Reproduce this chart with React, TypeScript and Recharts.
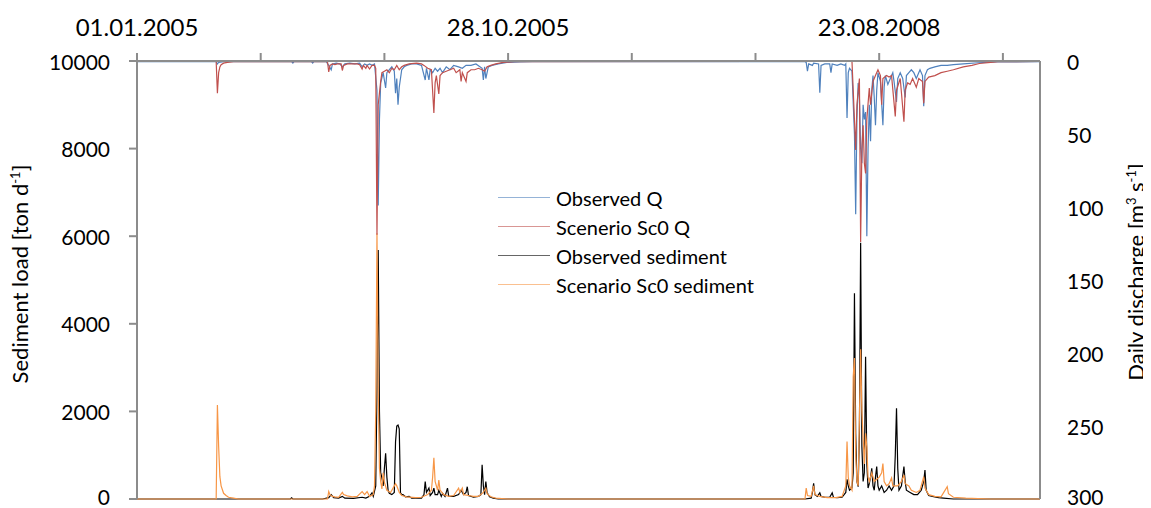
import React from 'react'
import { ComposedChart, Line, XAxis, YAxis } from 'recharts'

// x = day index of the daily series: 0-364 is 2005, 365-730 is 2008
const dayTicks = [0, 100, 200, 300, 400, 500, 600, 700]
const dateLabels: Record<number, string> = { 0: '01.01.2005', 300: '28.10.2005', 600: '23.08.2008' }
const sedTicks = [0, 2000, 4000, 6000, 8000, 10000]
const qTicks = [0, 50, 100, 150, 200, 250, 300]

// [day, m3/s]
const observedQ: [number, number][] = [
  [0, 0.5], [64, 0.5], [65, 2], [66, 1], [70, 0.5], [125, 0.5], [126, 1.5], [127, 0.5], [141, 0.5], [142, 1.5], [143, 0.5],
  [153, 0.5], [155, 3], [157, 6], [158, 2], [161, 1.5], [164, 2], [166, 4], [168, 2], [172, 1.5], [176, 2], [180, 1.5],
  [182, 4], [184, 2], [186, 3], [188, 2], [190, 3], [192, 2], [194, 20], [195, 99], [196, 40], [197, 15], [199, 8],
  [201, 18.5], [202, 8], [204, 6], [206, 4], [208, 7], [209, 22], [210, 12], [211, 30], [212, 18], [214, 6], [216, 4],
  [218, 3], [222, 2], [226, 2], [230, 3], [233, 13], [234, 5], [236, 13], [237, 6], [239, 8], [241, 5], [243, 7],
  [245, 5], [247, 8], [250, 4], [253, 6], [256, 3], [260, 4], [263, 5], [266, 3], [270, 3], [274, 2], [279, 5],
  [280, 13], [281, 4], [282, 12], [284, 4], [287, 3], [292, 2], [299, 1], [310, 0.7], [320, 0.5],
  [540, 0.5], [541, 1], [542, 7], [543, 2], [546, 3], [547, 1.5], [551, 2], [552, 21.7], [553, 3], [556, 2], [560, 2],
  [561, 8], [562, 2], [566, 3], [569, 2], [572, 3], [573, 2], [574, 39], [575, 8], [576, 5], [578, 7], [580, 50],
  [581, 105], [582, 40], [583, 15], [584, 25], [585, 60], [586, 70], [587, 30], [588, 40], [589, 35], [590, 120],
  [591, 60], [592, 30], [593, 55], [594, 20], [595, 10], [596, 25], [597, 44], [598, 20], [599, 8], [601, 14],
  [603, 44], [604, 18], [605, 10], [607, 16], [609, 12], [611, 8], [612, 14], [614, 28], [615, 12], [617, 8],
  [619, 12], [621, 25], [622, 10], [624, 8], [626, 6], [628, 8], [630, 12], [633, 6], [635, 10], [636, 31], [637, 10],
  [639, 6], [641, 5], [645, 4], [650, 3], [655, 3], [660, 2.5], [668, 2], [680, 1.2], [695, 0.6], [730, 0.5],
]

const scenarioQ: [number, number][] = [
  [0, 0.3], [64, 0.3], [65, 22], [66, 8], [67, 4], [68, 2.5], [70, 1.5], [73, 1], [78, 0.5], [154, 0.5], [155, 7.5],
  [156, 3], [158, 2], [160, 2.5], [162, 2], [165, 2], [166, 6.5], [167, 3], [170, 2], [175, 2], [178, 2], [180, 2.5],
  [182, 5.5], [183, 3], [185, 5], [186, 3], [188, 5.5], [190, 3], [192, 3], [193, 5], [194, 119], [195, 30], [197, 14],
  [198, 8], [200, 7], [202, 6], [204, 8], [206, 5], [208, 6], [210, 3], [212, 6], [214, 4], [216, 3], [220, 2],
  [226, 1.5], [230, 2], [232, 3], [235, 5], [238, 6], [240, 35.6], [241, 15], [242, 10], [244, 22.6], [245, 10],
  [247, 8], [250, 7], [253, 6], [256, 5], [258, 8], [261, 6], [262, 14], [263, 8], [265, 12], [266, 14], [267, 8],
  [270, 6], [273, 6], [276, 5], [279, 6], [281, 7], [283, 4], [286, 3], [290, 2], [296, 1], [305, 0.5],
  [578, 0.3], [579, 20], [581, 61], [582, 30], [584, 12], [585, 124], [586, 60], [587, 44], [588, 70], [589, 77],
  [590, 40], [592, 18.5], [593, 30], [595, 14], [597, 10], [599, 6], [601, 10], [602, 30], [603, 12], [606, 10],
  [608, 11], [610, 10], [613, 38], [614, 20], [617, 12], [620, 41.6], [621, 20], [623, 15], [625, 16], [627, 12],
  [630, 18], [632, 12], [635, 14], [636, 29], [637, 14], [640, 11], [645, 10], [650, 8], [655, 7], [660, 6],
  [668, 4], [675, 3], [681, 1.7], [690, 1], [696, 0.5], [730, 0.3],
]

// [day, ton/d]
const observedSed: [number, number][] = [
  [0, 0], [124, 0], [125, 25], [126, 0], [150, 0], [155, 30], [157, 100], [159, 30], [163, 20], [166, 60], [168, 20],
  [175, 15], [182, 40], [185, 20], [188, 60], [190, 140], [191, 60], [193, 300], [194, 2500], [195, 5685], [196, 2000],
  [197, 600], [198, 480], [199, 300], [200, 700], [201, 1043], [202, 500], [203, 200], [204, 130], [206, 100],
  [208, 150], [209, 1300], [210, 1667], [211, 1690], [212, 1600], [213, 140], [214, 100], [215, 100], [217, 50],
  [220, 60], [222, 20], [230, 20], [232, 100], [233, 400], [234, 150], [236, 250], [237, 80], [239, 150], [240, 250],
  [241, 100], [243, 100], [244, 200], [246, 60], [247, 130], [249, 60], [251, 250], [252, 60], [256, 60], [260, 100],
  [262, 200], [264, 100], [266, 150], [267, 280], [268, 80], [272, 40], [276, 60], [278, 100], [279, 780], [280, 300],
  [281, 100], [282, 400], [283, 150], [285, 50], [288, 20], [292, 0],
  [540, 0], [545, 20], [546, 150], [547, 360], [548, 100], [550, 60], [552, 140], [553, 60], [556, 40], [560, 40],
  [562, 140], [563, 40], [566, 30], [570, 40], [573, 150], [574, 450], [575, 300], [576, 200], [578, 250], [579, 600],
  [580, 4700], [581, 1500], [582, 400], [583, 280], [584, 1500], [585, 5850], [586, 1200], [587, 400], [588, 600],
  [589, 3250], [590, 800], [591, 250], [592, 350], [593, 500], [594, 700], [595, 300], [596, 200], [597, 500],
  [598, 740], [599, 300], [600, 200], [602, 300], [604, 150], [606, 200], [608, 300], [610, 200], [612, 300],
  [613, 1000], [614, 2070], [615, 700], [616, 200], [618, 300], [620, 740], [621, 400], [622, 200], [625, 150],
  [628, 100], [631, 100], [634, 200], [636, 400], [637, 660], [638, 200], [640, 80], [643, 60], [645, 50], [648, 30],
  [652, 20], [660, 0], [730, 0],
]

const scenarioSed: [number, number][] = [
  [0, 0], [64, 0], [65, 2146], [66, 1200], [67, 510], [68, 300], [70, 130], [72, 80], [74, 40], [78, 20], [82, 0],
  [154, 0], [155, 170], [156, 100], [158, 60], [160, 50], [163, 40], [166, 150], [167, 100], [170, 70], [174, 50],
  [178, 60], [182, 170], [184, 100], [186, 170], [188, 60], [191, 100], [192, 300], [193, 2000], [194, 6070],
  [195, 2500], [196, 700], [197, 400], [198, 230], [199, 600], [200, 380], [202, 200], [205, 150], [208, 300],
  [209, 350], [210, 300], [212, 150], [214, 80], [218, 50], [225, 30], [230, 40], [235, 100], [238, 200], [239, 500],
  [240, 940], [241, 400], [243, 200], [244, 430], [245, 200], [248, 100], [252, 60], [256, 80], [260, 250], [261, 150],
  [263, 250], [264, 100], [268, 80], [272, 60], [276, 60], [280, 150], [282, 250], [283, 120], [286, 50], [290, 20],
  [300, 0],
  [540, 0], [541, 250], [542, 80], [545, 60], [547, 300], [548, 100], [552, 60], [558, 30], [565, 30], [570, 60],
  [573, 300], [574, 1310], [575, 500], [576, 300], [578, 200], [579, 2790], [580, 3220], [581, 1000], [582, 400],
  [583, 300], [584, 1800], [585, 3420], [586, 2000], [588, 800], [589, 1500], [590, 1190], [591, 500], [592, 400],
  [594, 600], [596, 400], [598, 450], [600, 500], [602, 600], [603, 810], [604, 400], [606, 300], [608, 350],
  [610, 480], [611, 300], [613, 300], [615, 300], [618, 400], [620, 550], [621, 350], [624, 300], [626, 200],
  [630, 150], [633, 200], [636, 510], [637, 250], [640, 100], [645, 60], [650, 50], [655, 280], [656, 120], [660, 40],
  [670, 20], [690, 0], [730, 0],
]

const toPoints = (pts: [number, number][]) => pts.map(([day, v]) => ({ day, v }))

const FONT = 'Lato, "Noto Sans", sans-serif'
const AXIS_GREY = '#8c8c8c'

const series = [
  { name: 'Observed Q', color: '#4f81bd' },
  { name: 'Scenerio Sc0 Q', color: '#c0504d' },
  { name: 'Observed sediment', color: '#000000' },
  { name: 'Scenario Sc0 sediment', color: '#f79646' },
]

const supStyle: React.CSSProperties = { fontSize: 13, lineHeight: 0, verticalAlign: 'super' }

// y-axis tick text; the label at the bottom edge is lifted a little so it stays inside the page
const yTick = (bottomValue: number) => (props: any) => {
  const { x, y, payload, textAnchor } = props
  const lift = payload.value === bottomValue ? 3 : 0
  return (
    <text x={x} y={y - lift} textAnchor={textAnchor} dominantBaseline="central"
      fill="#000" fontSize={21} fontFamily={FONT}>
      {payload.value}
    </text>
  )
}

export default function App() {
  return (
    <div style={{ position: 'relative', width: 1135, height: 500, fontFamily: FONT }}>
      <ComposedChart width={1135} height={500} margin={{ top: 13, right: 23, bottom: 9, left: 49 }}
        style={{ overflow: 'visible' }}>
        <XAxis
          dataKey="day"
          type="number"
          orientation="top"
          domain={[0, 730]}
          ticks={dayTicks}
          tickFormatter={(d: number) => dateLabels[d] ?? ''}
          interval={0}
          height={40}
          tickSize={8}
          tickMargin={17}
          tick={{ fill: '#000', fontSize: 24, fontFamily: FONT }}
          axisLine={{ stroke: AXIS_GREY, strokeWidth: 2 }}
          tickLine={{ stroke: AXIS_GREY, strokeWidth: 2 }}
        />
        <YAxis
          yAxisId="sed"
          domain={[0, 10000]}
          ticks={sedTicks}
          interval={0}
          width={80}
          tickSize={8}
          tickMargin={19}
          tick={yTick(0)}
          axisLine={{ stroke: AXIS_GREY, strokeWidth: 2 }}
          tickLine={{ stroke: AXIS_GREY, strokeWidth: 2 }}
        />
        <YAxis
          yAxisId="q"
          orientation="right"
          reversed
          domain={[0, 300]}
          ticks={qTicks}
          interval={0}
          width={80}
          tickSize={0}
          tickMargin={27}
          tick={yTick(300)}
          tickLine={false}
          axisLine={{ stroke: AXIS_GREY, strokeWidth: 2 }}
        />
        <Line yAxisId="sed" data={toPoints(observedSed)} dataKey="v" type="linear" stroke={series[2].color}
          strokeWidth={1.2} dot={false} isAnimationActive={false} />
        <Line yAxisId="sed" data={toPoints(scenarioSed)} dataKey="v" type="linear" stroke={series[3].color}
          strokeWidth={1.2} dot={false} isAnimationActive={false} />
        <Line yAxisId="q" data={toPoints(observedQ)} dataKey="v" type="linear" stroke={series[0].color}
          strokeWidth={1.2} dot={false} isAnimationActive={false} />
        <Line yAxisId="q" data={toPoints(scenarioQ)} dataKey="v" type="linear" stroke={series[1].color}
          strokeWidth={1.2} dot={false} isAnimationActive={false} />
      </ComposedChart>

      <div style={{
        position: 'absolute', left: 12, top: 266, transform: 'translate(-50%, -50%) rotate(-90deg)',
        whiteSpace: 'nowrap', fontSize: 22, lineHeight: '24px', color: '#000',
      }}>
        Sediment load [ton d<sup style={supStyle}>-1</sup>]
      </div>
      <div style={{
        position: 'absolute', left: 1128, top: 264, transform: 'translate(-50%, -50%) rotate(-90deg)',
        whiteSpace: 'nowrap', fontSize: 22, lineHeight: '24px', color: '#000',
      }}>
        Daily discharge [m<sup style={supStyle}>3</sup> s<sup style={supStyle}>-1</sup>]
      </div>

      <div style={{ position: 'absolute', left: 490, top: 175 }}>
        {series.map(s => (
          <div key={s.name} style={{ display: 'flex', alignItems: 'center', height: 29 }}>
            <div style={{ width: 52, height: 1.5, background: s.color, opacity: 0.6, marginRight: 6 }} />
            <span style={{ fontSize: 20, color: '#000', whiteSpace: 'nowrap' }}>{s.name}</span>
          </div>
        ))}
      </div>
    </div>
  )
}
